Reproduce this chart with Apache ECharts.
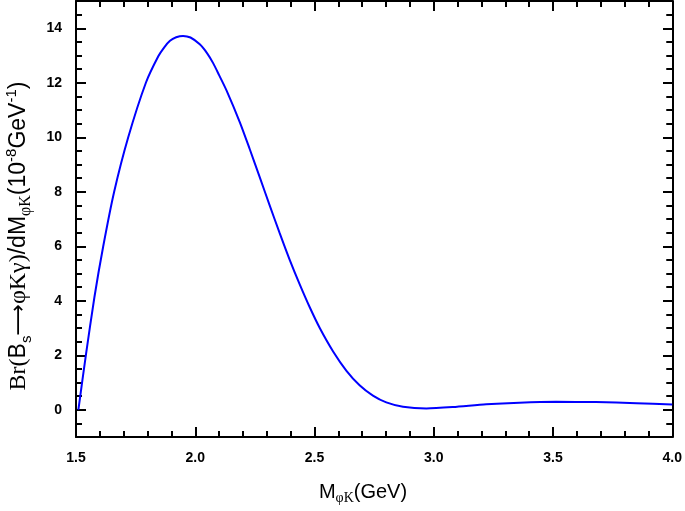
<!DOCTYPE html>
<html><head><meta charset="utf-8">
<script src="https://cdn.jsdelivr.net/npm/echarts@6/dist/echarts.min.js"></script>
<style>html,body{margin:0;padding:0;background:#fff}#c{width:685px;height:511px}</style>
</head><body><div id="c"></div>
<script>
const massGeV = [1.51, 1.542, 1.577, 1.614, 1.66, 1.719, 1.793, 1.845, 1.87, 1.894, 1.92, 1.949, 1.98, 2.019, 2.05, 2.075, 2.10, 2.131, 2.187, 2.229, 2.271, 2.312, 2.354, 2.396, 2.438, 2.48, 2.522, 2.578, 2.634, 2.689, 2.745, 2.801, 2.871, 2.969, 3.08, 3.22, 3.359, 3.513, 3.68, 3.85, 4.0];
const dBr = [0, 2.04, 4.12, 5.99, 8.0, 10.0, 12.0, 12.97, 13.3, 13.54, 13.67, 13.72, 13.66, 13.41, 13.08, 12.72, 12.28, 11.72, 10.55, 9.55, 8.52, 7.5, 6.48, 5.5, 4.6, 3.76, 3.0, 2.14, 1.43, 0.9, 0.52, 0.27, 0.11, 0.05, 0.1, 0.2, 0.26, 0.29, 0.28, 0.24, 0.19];
const xTicks = [1.5, 2.0, 2.5, 3.0, 3.5, 4.0];
const yTicks = [0, 2, 4, 6, 8, 10, 12, 14];

const chart = echarts.init(document.getElementById('c'), null, {renderer: 'canvas'});
const sans = 'Liberation Sans', serif = 'Liberation Serif';
const lineS = {lineStyle: {color: '#000', width: 2}};
const tickMinor = {show: true, inside: true, length: 6, lineStyle: {color: '#000', width: 2}};
const tickMajor = {show: true, inside: true, length: 10, lineStyle: {color: '#000', width: 2}};
const G = {left: 76, right: 12, top: 1, bottom: 74};
const unit = (511 - G.top - G.bottom) / 16;

const option = {
  animation: false,
  backgroundColor: '#fff',
  grid: [
    {left: G.left, right: G.right, top: G.top, bottom: G.bottom},
    {left: G.left, right: G.right, top: G.top, bottom: G.bottom + unit}
  ],
  xAxis: [
    {gridIndex: 0, type: 'value', position: 'bottom', min: 1.5, max: 4.0, interval: 0.5,
     axisLine: {show: true, onZero: false, ...lineS}, axisTick: tickMajor,
     minorTick: {show: true, splitNumber: 5, length: 6, lineStyle: {color: '#000', width: 2}},
     splitLine: {show: false},
     axisLabel: {show: true, margin: 14, color: '#000', fontFamily: sans, fontWeight: 'bold', fontSize: 14,
       formatter: v => xTicks.includes(+v.toFixed(1)) ? v.toFixed(1) : ''}},
    {gridIndex: 0, type: 'value', position: 'top', min: 1.5, max: 4.0, interval: 0.5,
     axisLine: {show: true, onZero: false, ...lineS}, axisTick: tickMajor,
     minorTick: {show: true, splitNumber: 5, length: 6, lineStyle: {color: '#000', width: 2}},
     splitLine: {show: false}, axisLabel: {show: false}},
    {gridIndex: 1, type: 'value', min: 1.5, max: 4.0, show: false}
  ],
  yAxis: [
    {gridIndex: 0, type: 'value', position: 'left', min: -1, max: 15, interval: 0.5,
     axisLine: {show: true, onZero: false, ...lineS}, axisTick: tickMinor,
     splitLine: {show: false}, axisLabel: {show: false}},
    {gridIndex: 0, type: 'value', position: 'right', min: -1, max: 15, interval: 0.5,
     axisLine: {show: true, onZero: false, ...lineS}, axisTick: tickMinor,
     splitLine: {show: false}, axisLabel: {show: false}},
    {gridIndex: 1, type: 'value', position: 'left', min: 0, max: 15, interval: 2,
     axisLine: {show: false}, axisTick: tickMajor, splitLine: {show: false},
     axisLabel: {show: true, margin: 14, color: '#000', fontFamily: sans, fontWeight: 'bold', fontSize: 14,
       showMaxLabel: false,
       formatter: v => yTicks.includes(v) ? String(v) : ''}},
    {gridIndex: 1, type: 'value', position: 'right', min: 0, max: 15, interval: 2,
     axisLine: {show: false}, axisTick: tickMajor, splitLine: {show: false}, axisLabel: {show: false}}
  ],
  series: [{
    type: 'line', xAxisIndex: 0, yAxisIndex: 0, smooth: 0.25, showSymbol: false,
    lineStyle: {color: '#0000ff', width: 2}, itemStyle: {color: '#0000ff'},
    data: massGeV.map((x, i) => [x, dBr[i]])
  }],
  graphic: [
    {type: 'text', x: 363, y: 492, style: {
      text: '{m|M}{sub|φK}{m|(GeV)}', align: 'center', verticalAlign: 'middle',
      rich: {
        m: {fontFamily: sans, fontSize: 20, color: '#000', lineHeight: 26, verticalAlign: 'middle'},
        sub: {fontFamily: serif, fontSize: 14, color: '#000', lineHeight: 14, verticalAlign: 'bottom'}
      }}},
    {type: 'text', x: 19, y: 236, rotation: Math.PI / 2, style: {
      text: '{s|Br(}{b|B}{sub|s}{ar|⟶}{s|φKγ)}{b|/dM}{subs|φK}{b|(10}{sup|-8}{b|GeV}{sup|-1}{b|)}',
      align: 'center', verticalAlign: 'middle',
      rich: {
        s: {fontFamily: serif, fontSize: 24, color: '#000', lineHeight: 30, verticalAlign: 'middle'},
        b: {fontFamily: sans, fontSize: 23, color: '#000', lineHeight: 30, verticalAlign: 'middle'},
        ar: {fontFamily: 'DejaVu Sans', fontSize: 22, color: '#000', lineHeight: 30, verticalAlign: 'middle'},
        sub: {fontFamily: sans, fontSize: 15, color: '#000', lineHeight: 14, verticalAlign: 'bottom'},
        subs: {fontFamily: serif, fontSize: 16, color: '#000', lineHeight: 14, verticalAlign: 'bottom'},
        sup: {fontFamily: sans, fontSize: 15, color: '#000', lineHeight: 14, verticalAlign: 'top'}
      }}}
  ]
};
chart.setOption(option);
</script></body></html>
